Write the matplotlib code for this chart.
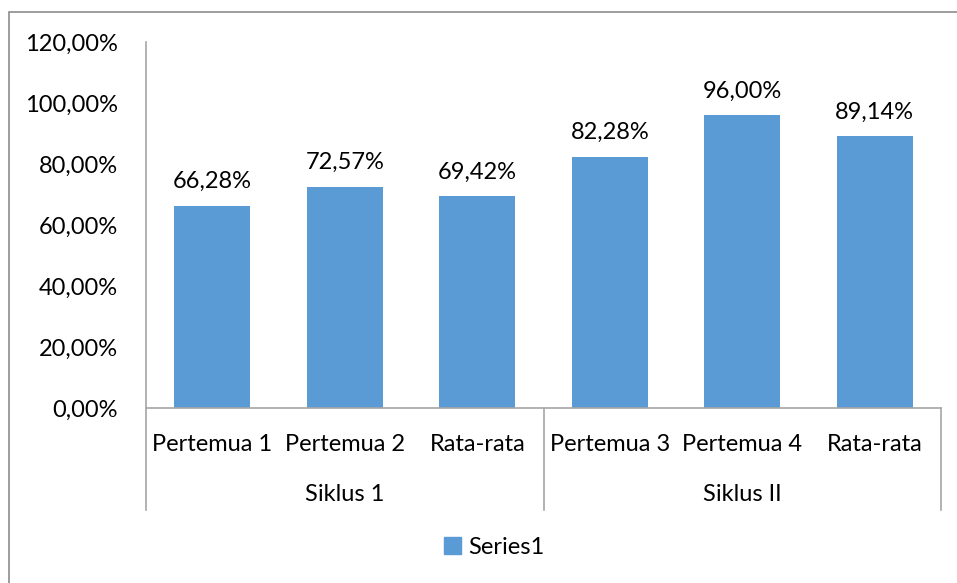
import matplotlib
matplotlib.use("Agg")
import matplotlib.pyplot as plt
from matplotlib.patches import Rectangle
from matplotlib.ticker import FuncFormatter
import matplotlib.transforms as mtransforms

categories = ["Pertemua 1", "Pertemua 2", "Rata-rata", "Pertemua 3", "Pertemua 4", "Rata-rata"]
groups = ["Siklus 1", "Siklus II"]
group_sizes = [3, 3]
values = [66.28, 72.57, 69.42, 82.28, 96.00, 89.14]
yticks = [0, 20, 40, 60, 80, 100, 120]

BAR = "#5b9bd5"
GRID = "#a6a6a6"
FONT = "Lato"
FS = 17


def pct(v):
    return f"{v:.2f}".replace(".", ",") + "%"


W, H = 957, 583
fig = plt.figure(figsize=(W / 100, H / 100), dpi=100)

# outer chart border (right/bottom sit outside the image)
fig.patches.append(Rectangle((9 / W, -0.1), 1.2, 1 - 12 / H + 0.1, transform=fig.transFigure,
                             fill=False, edgecolor="#8c8c8c", linewidth=1.2))

ax = fig.add_axes([146 / W, 1 - 408 / H, 795 / W, 366 / H])
x = list(range(len(values)))
ax.bar(x, values, width=0.57, color=BAR, zorder=2)
ax.set_xlim(-0.5, len(values) - 0.5)
ax.set_ylim(0, 120)
ax.set_yticks(yticks)
ax.yaxis.set_major_formatter(FuncFormatter(lambda v, _: pct(v)))
ax.tick_params(axis="y", length=0, pad=20, labelsize=FS)
ax.set_xticks([])
for lbl in ax.get_yticklabels():
    lbl.set_fontfamily(FONT)

for s in ["top", "right"]:
    ax.spines[s].set_visible(False)
for s in ["left", "bottom"]:
    ax.spines[s].set_color(GRID)
    ax.spines[s].set_linewidth(1.2)

for xi, v in zip(x, values):
    ax.text(xi, v + 4.5, pct(v), ha="center", va="bottom", fontsize=FS, family=FONT)

# multi-level category axis
trans = mtransforms.blended_transform_factory(ax.transData, ax.transAxes)
for xi, c in zip(x, categories):
    ax.text(xi, -0.1, c, transform=trans, ha="center", va="center", fontsize=FS, family=FONT)

start = 0
for g, n in zip(groups, group_sizes):
    ax.text(start + (n - 1) / 2, -0.237, g, transform=trans, ha="center", va="center",
            fontsize=FS, family=FONT)
    start += n

bounds = [-0.5]
for n in group_sizes:
    bounds.append(bounds[-1] + n)
for b in bounds:
    ax.plot([b, b], [0, -102 / 366], transform=trans, color=GRID, lw=1.2, clip_on=False)

# legend
ax.legend(handles=[Rectangle((0, 0), 1, 1, color=BAR)], labels=["Series1"],
          loc="center", bbox_to_anchor=(0.5 - 0.062, -0.38), frameon=False,
          prop={"family": FONT, "size": FS}, handlelength=0.7, handleheight=0.7,
          handletextpad=0.3)

fig.savefig("out.png", dpi=100)
